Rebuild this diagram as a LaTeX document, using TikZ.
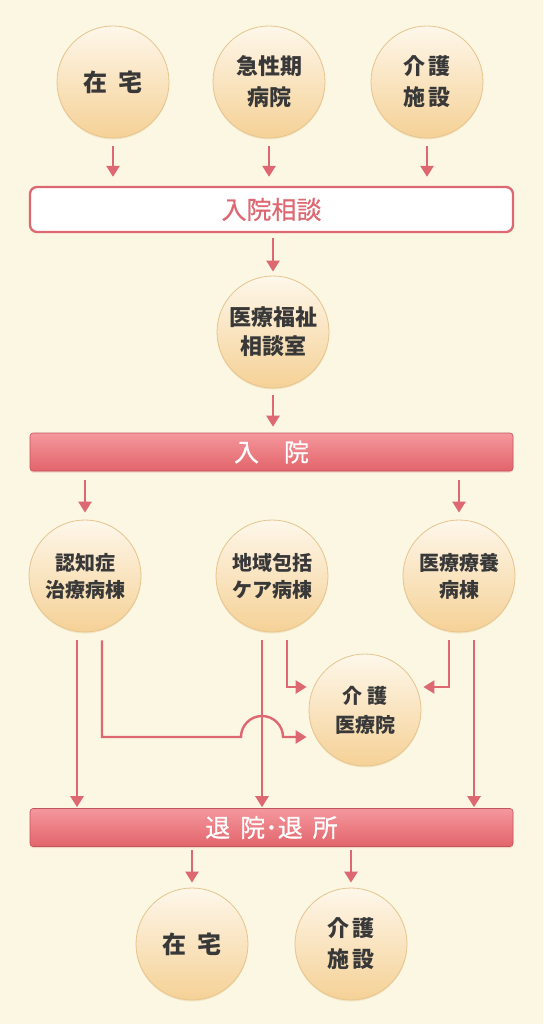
\documentclass[tikz,border=0pt]{standalone}
\usepackage{fontspec}
\setmainfont{Noto Sans CJK JP}
\newfontfamily\medfont{Noto Sans CJK JP}[FakeBold=0.6]
\usetikzlibrary{arrows.meta,shadows}
\definecolor{cream}{HTML}{FBF7E2}
\definecolor{ballhi}{HTML}{FEF7EA}
\definecolor{balllo}{HTML}{F5D196}
\definecolor{ballrim}{HTML}{E6C48E}
\definecolor{flowred}{HTML}{DE6872}
\definecolor{barhi}{HTML}{F4989D}
\definecolor{barlo}{HTML}{E2646B}
\definecolor{inktext}{HTML}{383838}
\tikzset{
  ball/.style={circle,minimum size=112pt,inner sep=0pt,align=center,draw=ballrim,line width=.8pt,
    top color=ballhi,bottom color=balllo,
    drop shadow={shadow xshift=0pt,shadow yshift=-1.5pt,opacity=.35,fill=ballrim},
    text=inktext,font=\fontsize{20}{27}\selectfont\bfseries},
  bigtext/.style={font=\fontsize{22}{31}\selectfont\bfseries},
  bar/.style={rectangle,rounded corners=3pt,minimum width=483pt,minimum height=38pt,inner sep=0pt,
    draw=barlo!85!black,line width=.6pt,top color=barhi,bottom color=barlo,
    drop shadow={shadow xshift=0pt,shadow yshift=-1.5pt,opacity=.25,fill=barlo},
    text=white,font=\fontsize{25}{25}\selectfont\medfont},
  consultbox/.style={rectangle,rounded corners=7pt,minimum width=483pt,minimum height=45pt,inner sep=0pt,
    draw=flowred,line width=2.3pt,fill=white,text=flowred,font=\fontsize{25}{25}\selectfont\medfont},
  flow/.style={draw=flowred,line width=2.4pt,-{Triangle[width=13pt,length=11pt]},
    shorten <=8pt,shorten >=9pt},
}
\begin{document}
\begin{tikzpicture}[x=1pt,y=-1pt]
\fill[cream] (0,0) rectangle (543,1024);
\path[use as bounding box] (0,0) rectangle (543,1024);
\node[ball,font=\fontsize{24}{24}\selectfont\bfseries] (home) at (113,82) {在\hspace{.45em}宅};
\node[ball,bigtext] (acute) at (269,82) {急性期\\病院};
\node[ball,bigtext] (care) at (427,82) {介\hspace{.12em}護\\施\hspace{.12em}設};
\node[consultbox] (consult) at (271.5,209.5) {入院相談};
\node[ball,font=\fontsize{22}{29}\selectfont\bfseries] (office) at (273,332) {医療福祉\\相談室};
\node[bar] (admit) at (271.5,452) {入　院};
\node[ball] (dementia) at (85,576) {認知症\\治療病棟};
\node[ball] (community) at (272,576) {地域包括\\ケア病棟};
\node[ball] (longterm) at (459,576) {医療療養\\病棟};
\node[ball,font=\fontsize{20}{29}\selectfont\bfseries] (carehosp) at (365,710) {介\hspace{.25em}護\\医療院};
\node[bar] (discharge) at (271.5,827.5) {退\hspace{.4em}院･退\hspace{.4em}所};
\node[ball,font=\fontsize{24}{24}\selectfont\bfseries] (home2) at (192,944) {在\hspace{.45em}宅};
\node[ball,bigtext] (care2) at (351,944) {介\hspace{.12em}護\\施\hspace{.12em}設};
\draw[flow] (home.south) -- (home.south |- consult.north);
\draw[flow] (acute.south) -- (acute.south |- consult.north);
\draw[flow] (care.south) -- (care.south |- consult.north);
\draw[flow,shorten <=5pt,shorten >=4pt] (consult.south -| office.north) -- (office.north);
\draw[flow,shorten <=7pt,shorten >=6pt] (office.south) -- (office.south |- admit.north);
\draw[flow,shorten <=9pt,shorten >=7pt] (admit.south -| dementia.north) -- (dementia.north);
\draw[flow,shorten <=9pt,shorten >=7pt] (admit.south -| longterm.north) -- (longterm.north);
\path ([xshift=-8pt]dementia.south) coordinate (d1) ([xshift=17pt]dementia.south) coordinate (d2)
      ([xshift=-10pt]community.south) coordinate (c1) ([xshift=15pt]community.south) coordinate (c2)
      ([xshift=-10pt]longterm.south) coordinate (l1) ([xshift=15pt]longterm.south) coordinate (l2)
      ([yshift=23pt]carehosp.west) coordinate (inhigh) ([yshift=-27pt]carehosp.west) coordinate (inlow)
      ([yshift=23pt]carehosp.east) coordinate (inright);
\coordinate (hop) at (inlow -| c1);
\draw[flow,shorten >=1pt] (d1) -- (d1 |- discharge.north);
\draw[flow,shorten >=1pt] (c1) -- (c1 |- discharge.north);
\draw[flow,shorten >=1pt] (l2) -- (l2 |- discharge.north);
\draw[flow,shorten >=2pt] (c2) |- (inhigh);
\draw[flow,shorten >=2pt] (l1) |- (inright);
\draw[flow,shorten >=2pt] (d2) |- ([xshift=-21pt]hop) arc[start angle=180,end angle=0,radius=21pt] -- (inlow);
\draw[flow,shorten <=3pt,shorten >=5pt] (discharge.south -| home2.north) -- (home2.north);
\draw[flow,shorten <=3pt,shorten >=5pt] (discharge.south -| care2.north) -- (care2.north);
\end{tikzpicture}
\end{document}
